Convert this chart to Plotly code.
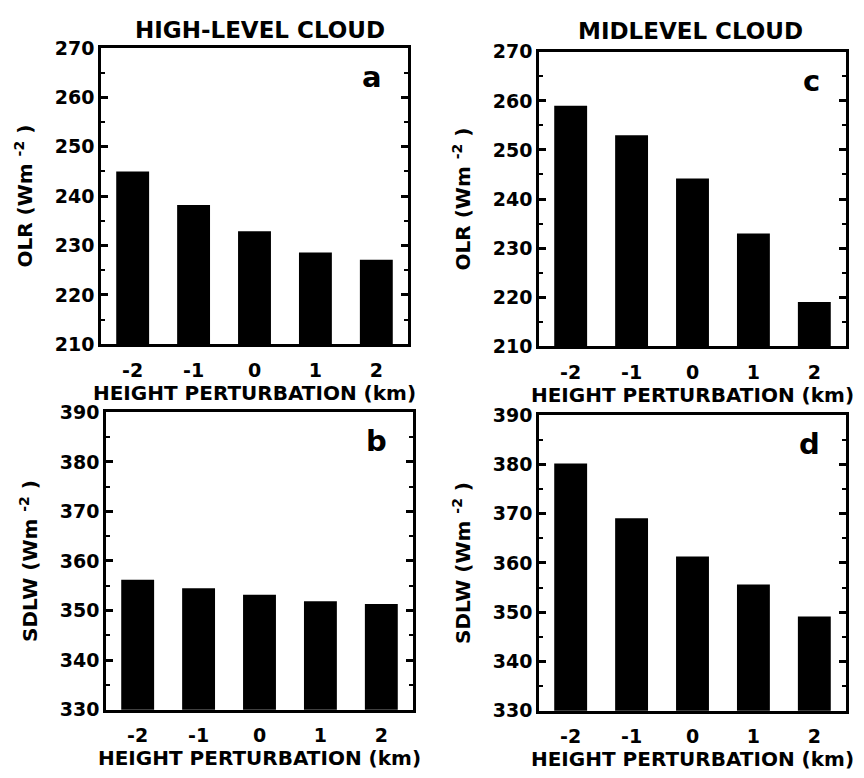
import plotly.graph_objects as go

heights = [-2, -1, 0, 1, 2]
olr_high = [245.0, 238.2, 232.9, 228.6, 227.1]
sdlw_high = [356.2, 354.5, 353.2, 351.9, 351.3]
olr_mid = [259.0, 253.0, 244.2, 233.0, 219.0]
sdlw_mid = [380.2, 369.1, 361.3, 355.6, 349.1]

tick_vals_x = [-2, -1, 0, 1, 2]
tick_text_x = ["-2", "-1", "0", "1", "2"]
x_title = "HEIGHT PERTURBATION (km)"
olr_title = "OLR (Wm <sup>-2</sup> )"
sdlw_title = "SDLW (Wm <sup>-2</sup> )"
col_titles = ["HIGH-LEVEL CLOUD", "MIDLEVEL CLOUD"]
panel_letters = ["a", "b", "c", "d"]

FONT = "DejaVu Sans"
W, H = 864, 778

# pixel boxes (left, right, top, bottom)
boxes = {
    "a": (101, 408, 38, 343),
    "b": (106, 413, 413, 719),
    "c": (539, 846, 42, 345),
    "d": (539, 846, 416, 720),
}

panels = [
    ("a", olr_high, [210, 270], olr_title),
    ("b", sdlw_high, [330, 390], sdlw_title),
    ("c", olr_mid, [210, 270], olr_title),
    ("d", sdlw_mid, [330, 390], sdlw_title),
]

fig = go.Figure()
layout = dict(
    width=W, height=H,
    margin=dict(l=0, r=0, t=0, b=0),
    paper_bgcolor="white", plot_bgcolor="white",
    showlegend=False,
    font=dict(family=FONT, color="black", weight="bold"),
)

annotations = []
for i, (letter, vals, yr, ytitle) in enumerate(panels):
    n = i + 1
    xa = "x" if n == 1 else f"x{n}"
    ya = "y" if n == 1 else f"y{n}"
    fig.add_trace(go.Bar(x=heights, y=vals, marker=dict(color="black", line=dict(width=0)),
                         width=0.54, xaxis=xa, yaxis=ya))
    l, r, t, b = boxes[letter]
    xkey = "xaxis" if n == 1 else f"xaxis{n}"
    ykey = "yaxis" if n == 1 else f"yaxis{n}"
    layout[xkey] = dict(
        domain=[l / W, r / W], anchor=ya, range=[-2.52, 2.52],
        tickvals=tick_vals_x, ticktext=tick_text_x, ticks="",
        ticklabelstandoff=7,
        showline=True, linecolor="black", linewidth=2.5, mirror=True,
        showgrid=False, zeroline=False,
        tickfont=dict(family=FONT, size=19, weight="bold", color="black"),
        title=dict(text=x_title, font=dict(family=FONT, size=20, weight="bold", color="black"), standoff=1),
    )
    layout[ykey] = dict(
        domain=[1 - b / H, 1 - t / H], anchor=xa, range=yr,
        tickvals=list(range(yr[0], yr[1] + 1, 10)),
        ticks="inside", ticklen=7, tickwidth=2.5, tickcolor="black",
        minor=dict(ticks="inside", ticklen=4, tickwidth=2, tickcolor="black", dtick=5, tick0=0),
        showline=True, linecolor="black", linewidth=2.5, mirror="ticks",
        showgrid=False, zeroline=False,
        tickfont=dict(family=FONT, size=19, weight="bold", color="black"),
        title=dict(text=ytitle, font=dict(family=FONT, size=20, weight="bold", color="black"), standoff=17),
    )
    annotations.append(dict(
        text=letter, xref="paper", yref="paper",
        x=(r - 24) / W, y=1 - (t + 30) / H, xanchor="right", yanchor="middle",
        showarrow=False, font=dict(family=FONT, size=29, weight="bold", color="black"),
    ))

annotations.append(dict(text=col_titles[0], xref="paper", yref="paper", x=260 / W, y=1 - 20 / H,
                        xanchor="center", yanchor="middle", showarrow=False,
                        font=dict(family=FONT, size=23, weight="bold", color="black")))
annotations.append(dict(text=col_titles[1], xref="paper", yref="paper", x=690 / W, y=1 - 21 / H,
                        xanchor="center", yanchor="middle", showarrow=False,
                        font=dict(family=FONT, size=23, weight="bold", color="black")))
layout["annotations"] = annotations
fig.update_layout(**layout)
fig.write_html("out.html")
